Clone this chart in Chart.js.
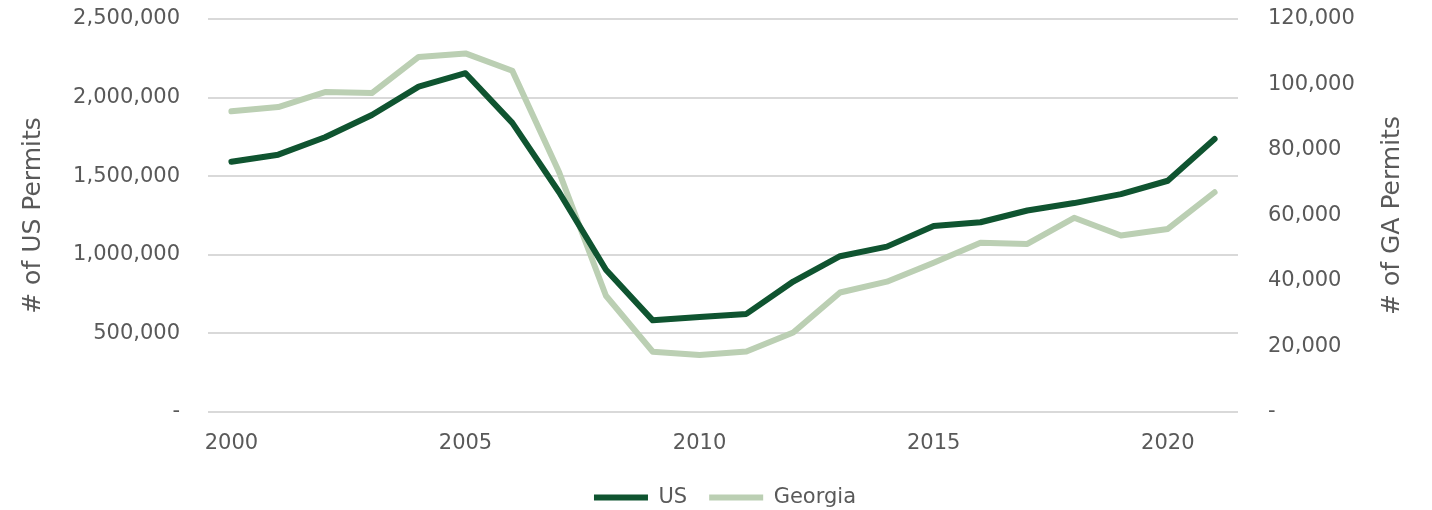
<!DOCTYPE html>
<html>
<head>
<meta charset="utf-8">
<script src="https://cdn.jsdelivr.net/npm/chart.js@4/dist/chart.umd.min.js"></script>
<style>
  html, body { margin: 0; padding: 0; background: #ffffff; }
  #wrap { width: 1432px; height: 510px; position: relative; }
</style>
</head>
<body>
<div id="wrap"><canvas id="chart" width="1432" height="510"></canvas></div>
<script>
// Building permits, United States vs Georgia
const years = [2000, 2001, 2002, 2003, 2004, 2005, 2006, 2007, 2008, 2009, 2010,
               2011, 2012, 2013, 2014, 2015, 2016, 2017, 2018, 2019, 2020, 2021];
const usPermits = [1592000, 1637000, 1748000, 1889000, 2070000, 2155000, 1839000, 1398000,
                   905000, 583000, 605000, 624000, 830000, 991000, 1052000, 1183000,
                   1207000, 1282000, 1329000, 1386000, 1471000, 1737000];
const gaPermits = [91800, 93100, 97700, 97400, 108400, 109500, 104200, 73200,
                   35500, 18400, 17400, 18500, 24300, 36500, 39800, 45600,
                   51700, 51300, 59300, 53900, 55900, 67100];
const usTicksMax = 2500000;
const gaTicksMax = 120000;
const usAxisTitle = '# of US Permits';
const gaAxisTitle = '# of GA Permits';

const textColor = '#595959';
const gridColor = '#d9d9d9';
const usColor = '#0f5430';
const gaColor = '#bbcfb3';
const fontFamily = '"DejaVu Sans", sans-serif';
const titleSize = 25;

const fmt = v => v === 0 ? '-' : v.toLocaleString('en-US');

// Right-hand axis title, written bottom-to-top like the left one
const rightTitle = {
  id: 'rightTitle',
  afterDraw(chart) {
    const { ctx, chartArea } = chart;
    const cy = (chartArea.top + chartArea.bottom) / 2;
    ctx.save();
    ctx.translate(1392, cy);
    ctx.rotate(-Math.PI / 2);
    ctx.fillStyle = textColor;
    ctx.font = titleSize + 'px ' + fontFamily;
    ctx.textAlign = 'center';
    ctx.textBaseline = 'middle';
    ctx.fillText(gaAxisTitle, 0, 0);
    ctx.restore();
  }
};

// Value axes: fixed width, no extra vertical padding from tick spacing
const fixVertical = width => s => {
  s.width = width;
  s.paddingTop = 0;
  s.paddingBottom = 0;
};

new Chart(document.getElementById('chart'), {
  type: 'line',
  data: {
    labels: years,
    datasets: [
      {
        label: 'US',
        data: usPermits,
        yAxisID: 'y',
        borderColor: usColor,
        backgroundColor: usColor,
        borderWidth: 6,
        pointRadius: 0,
        tension: 0,
        borderCapStyle: 'round',
        borderJoinStyle: 'round',
        order: 1
      },
      {
        label: 'Georgia',
        data: gaPermits,
        yAxisID: 'y1',
        borderColor: gaColor,
        backgroundColor: gaColor,
        borderWidth: 6,
        pointRadius: 0,
        tension: 0,
        borderCapStyle: 'round',
        borderJoinStyle: 'round',
        order: 2
      }
    ]
  },
  options: {
    responsive: false,
    animation: false,
    layout: { padding: { top: 19, bottom: -8, left: 18, right: 0 } },
    plugins: {
      tooltip: { enabled: false },
      legend: {
        position: 'bottom',
        labels: {
          color: textColor,
          font: { family: fontFamily, size: 21 },
          usePointStyle: true,
          pointStyle: 'line',
          pointStyleWidth: 54,
          boxHeight: 6,
          padding: 22
        }
      }
    },
    scales: {
      x: {
        type: 'category',
        offset: true,
        grid: { display: false, drawTicks: false },
        border: { display: false },
        ticks: {
          autoSkip: false,
          maxRotation: 0,
          padding: 19,
          color: textColor,
          font: { family: fontFamily, size: 21 },
          callback: function (value, index) {
            const y = years[index];
            return y % 5 === 0 ? String(y) : '';
          }
        },
        afterFit: s => { s.height = 53; }
      },
      y: {
        position: 'left',
        min: 0,
        max: usTicksMax,
        grid: { color: gridColor, lineWidth: 2, drawTicks: false },
        border: { display: false },
        ticks: {
          stepSize: 500000,
          padding: 28,
          color: textColor,
          font: { family: fontFamily, size: 21 },
          callback: v => fmt(v)
        },
        title: {
          display: true,
          text: usAxisTitle,
          color: textColor,
          font: { family: fontFamily, size: titleSize },
          padding: { top: 0, bottom: 0 }
        },
        afterFit: fixVertical(190)
      },
      y1: {
        position: 'right',
        min: 0,
        max: gaTicksMax,
        grid: { display: false, drawTicks: false },
        border: { display: false },
        ticks: {
          stepSize: 20000,
          padding: 30,
          color: textColor,
          font: { family: fontFamily, size: 21 },
          callback: v => fmt(v)
        },
        afterFit: fixVertical(194)
      }
    }
  },
  plugins: [rightTitle]
});
</script>
</body>
</html>
